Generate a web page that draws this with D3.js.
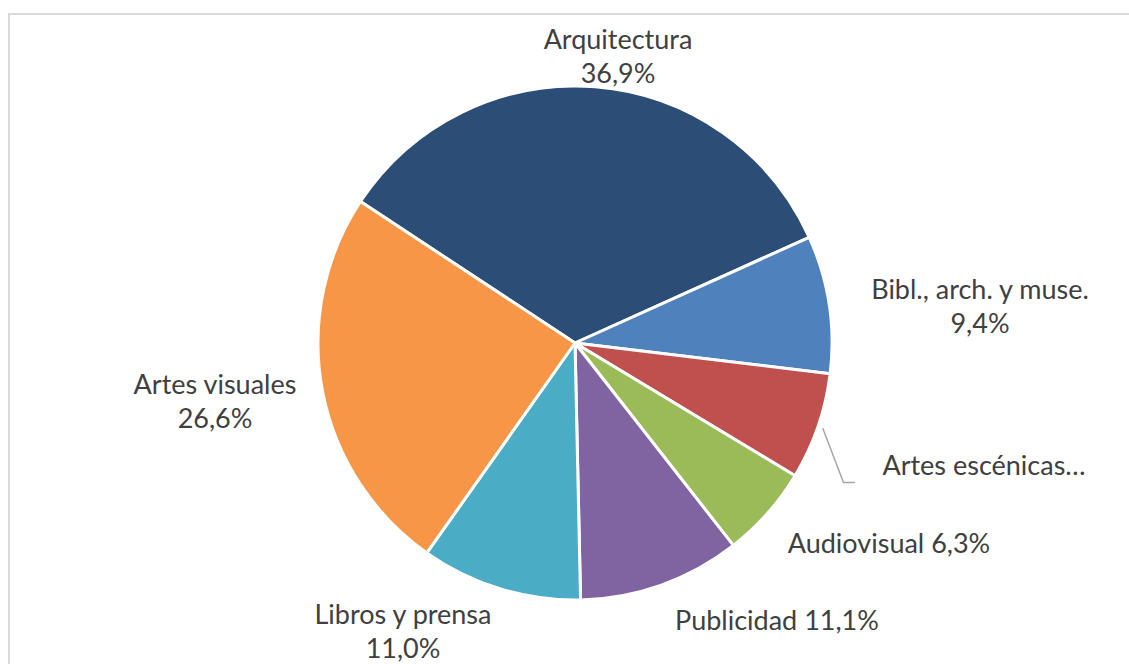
<!DOCTYPE html>
<html>
<head>
<meta charset="utf-8">
<script src="https://cdn.jsdelivr.net/npm/d3@7"></script>
<style>
  html, body { margin: 0; padding: 0; background: #fff; }
  svg { display: block; }
</style>
</head>
<body>
<svg id="chart" width="1129" height="664"></svg>
<script>
// Sectores (en el orden en que se dibujan, en sentido horario)
const categories = ["Arquitectura", "Bibl., arch. y muse.", "Artes escénicas y musicales", "Audiovisual", "Publicidad", "Libros y prensa", "Artes visuales"];
const values = [36.9, 9.4, 7.3, 6.3, 11.1, 11.0, 26.6];
const colors = ["#2C4D75", "#4F81BD", "#C0504D", "#9BBB59", "#8064A2", "#4BACC6", "#F79646"];

// Textos de las etiquetas (una fila por línea)
const labelLines = [
  ["Arquitectura", "36,9%"],
  ["Bibl., arch. y muse.", "9,4%"],
  ["Artes escénicas…"],
  ["Audiovisual 6,3%"],
  ["Publicidad 11,1%"],
  ["Libros y prensa", "11,0%"],
  ["Artes visuales", "26,6%"]
];

// Posición (centro del bloque de texto) de cada etiqueta
const labelPos = [
  [618, 55], [980, 305], [984, 464], [889, 542], [777, 619], [403, 630], [215, 400]
];

const W = 1129, H = 664;
const cx = 575, cy = 343, R = 257;
const startDeg = -56.6;
const lineH = 34;
const fontSize = 27;

const svg = d3.select("#chart");

// Marco del gráfico
svg.append("rect")
  .attr("x", 9).attr("y", 14)
  .attr("width", W + 20).attr("height", H + 20)
  .attr("fill", "#fff")
  .attr("stroke", "#d9d9d9")
  .attr("stroke-width", 2);

const pie = d3.pie()
  .value(d => d)
  .sort(null)
  .startAngle(startDeg * Math.PI / 180)
  .endAngle(startDeg * Math.PI / 180 + 2 * Math.PI);

const arc = d3.arc().innerRadius(0).outerRadius(R);

const g = svg.append("g").attr("transform", `translate(${cx},${cy})`);

const arcs = pie(values);

g.selectAll("path.slice")
  .data(arcs)
  .join("path")
  .attr("class", "slice")
  .attr("d", arc)
  .attr("fill", (d, i) => colors[i])
  .attr("stroke", "#fff")
  .attr("stroke-width", 3)
  .attr("stroke-linejoin", "round");

// Línea guía de la etiqueta de Artes escénicas
const a2 = arcs[2];
const mid = (a2.startAngle + a2.endAngle) / 2;
const p0 = [cx + Math.sin(mid) * (R + 5), cy - Math.cos(mid) * (R + 5)];
svg.append("polyline")
  .attr("points", [p0, [843.5, 482.5], [855, 482.5]].map(p => p.join(",")).join(" "))
  .attr("fill", "none")
  .attr("stroke", "#a6a6a6")
  .attr("stroke-width", 1.5);

// Etiquetas de datos
const labels = svg.append("g")
  .attr("font-family", "Lato, 'Open Sans', sans-serif")
  .attr("font-size", fontSize)
  .attr("fill", "#404040")
  .attr("text-anchor", "middle");

labelLines.forEach((lines, i) => {
  const [x, y] = labelPos[i];
  const t = labels.append("text")
    .attr("x", x)
    .attr("y", y - (lines.length - 1) * lineH / 2)
    .attr("dominant-baseline", "central");
  lines.forEach((ln, j) => {
    t.append("tspan")
      .attr("x", x)
      .attr("dy", j === 0 ? 0 : lineH)
      .text(ln);
  });
});
</script>
</body>
</html>
